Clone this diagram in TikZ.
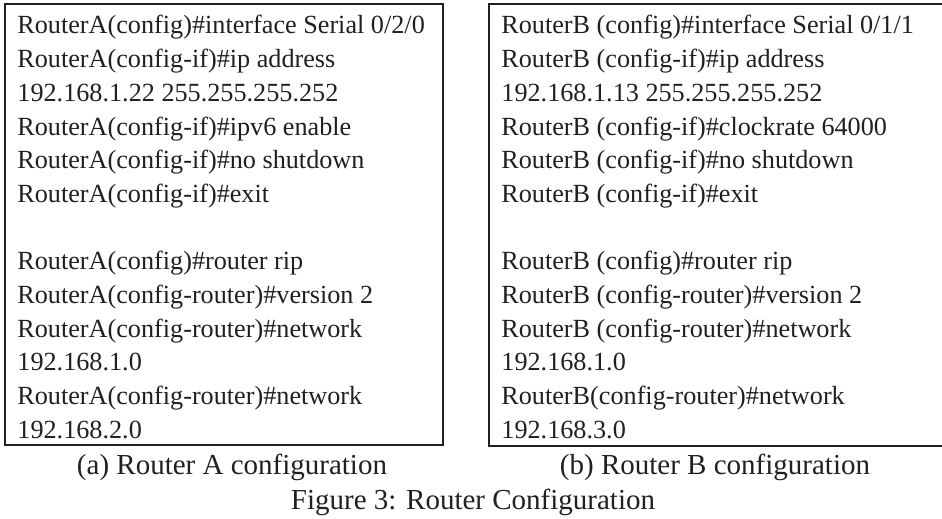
\documentclass[tikz,border=0pt]{standalone}
\usepackage{fontspec}
\setmainfont{Liberation Serif}
\definecolor{ink}{HTML}{231F20}
\begin{document}
\begin{tikzpicture}[x=0.5pt,y=-0.5pt,
    cmdline/.style={anchor=base west, inner sep=0pt, text=ink, font=\fontsize{13.1}{16}\selectfont},
    caption/.style={anchor=base, inner sep=0pt, text=ink, font=\fontsize{14.5}{16}\selectfont},
    frame/.style={line width=1pt, draw=ink}]
	\useasboundingbox (0,0) rectangle (942,519);
	
	% router A
	\draw[frame] (5,4) rectangle (443,445);
	\foreach \txt [count=\i from 0] in {RouterA(config)\#interface Serial 0/2/0, RouterA(config-if)\#ip address, 192.168.1.22 255.255.255.252, RouterA(config-if)\#ipv6 enable, RouterA(config-if)\#no shutdown, RouterA(config-if)\#exit}
		\node[cmdline] (a\i) at (17, 34+33.67*\i) {\txt};
	\foreach \txt [count=\i from 7] in {RouterA(config)\#router rip, RouterA(config-router)\#version 2, RouterA(config-router)\#network, 192.168.1.0, RouterA(config-router)\#network, 192.168.2.0}
		\node[cmdline] (a\i) at (17, 34+33.67*\i) {\txt};
	
	% router B
	\draw[frame] (942,4) -- (489,4) -- (489,446) -- (942,446);
	\foreach \txt [count=\i from 0] in {RouterB (config)\#interface Serial 0/1/1, RouterB (config-if)\#ip address, 192.168.1.13 255.255.255.252, RouterB (config-if)\#clockrate 64000, RouterB (config-if)\#no shutdown, RouterB (config-if)\#exit}
		\node[cmdline] (b\i) at (501, 34+33.67*\i) {\txt};
	\foreach \txt [count=\i from 7] in {RouterB (config)\#router rip, RouterB (config-router)\#version 2, RouterB (config-router)\#network, 192.168.1.0, RouterB(config-router)\#network, 192.168.3.0}
		\node[cmdline] (b\i) at (501, 34+33.67*\i) {\txt};
	
	% captions
	\node[caption] (capA) at (232,474) {(a) Router A configuration};
	\node[caption] (capB) at (715,474) {(b) Router B configuration};
	\node[caption] (fig) at (473,509) {Figure 3: Router Configuration};
	
\end{tikzpicture}
\end{document}
